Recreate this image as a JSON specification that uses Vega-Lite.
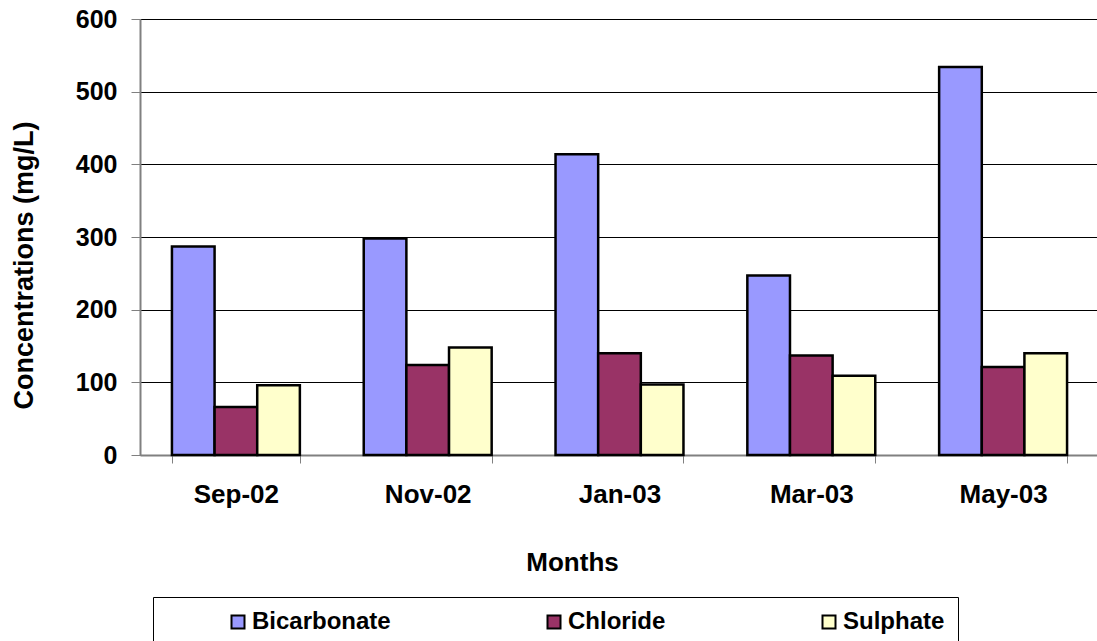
{
  "$schema": "https://vega.github.io/schema/vega-lite/v6.json",
  "width": 959,
  "height": 436,
  "autosize": {"type": "none"},
  "padding": {"left": 140, "top": 19, "right": 0, "bottom": 186},
  "background": "white",
  "config": {
    "font": "Liberation Sans",
    "view": {"stroke": null}
  },
  "data": {
    "values": [
      {"month": "Sep-02", "ion": "Bicarbonate", "value": 287},
      {"month": "Sep-02", "ion": "Chloride", "value": 66},
      {"month": "Sep-02", "ion": "Sulphate", "value": 96},
      {"month": "Nov-02", "ion": "Bicarbonate", "value": 298},
      {"month": "Nov-02", "ion": "Chloride", "value": 124},
      {"month": "Nov-02", "ion": "Sulphate", "value": 148},
      {"month": "Jan-03", "ion": "Bicarbonate", "value": 414},
      {"month": "Jan-03", "ion": "Chloride", "value": 140},
      {"month": "Jan-03", "ion": "Sulphate", "value": 97},
      {"month": "Mar-03", "ion": "Bicarbonate", "value": 247},
      {"month": "Mar-03", "ion": "Chloride", "value": 137},
      {"month": "Mar-03", "ion": "Sulphate", "value": 109},
      {"month": "May-03", "ion": "Bicarbonate", "value": 534},
      {"month": "May-03", "ion": "Chloride", "value": 121},
      {"month": "May-03", "ion": "Sulphate", "value": 140}
    ]
  },
  "mark": {"type": "bar", "stroke": "black", "strokeWidth": 2.5},
  "encoding": {
    "x": {
      "field": "month",
      "type": "nominal",
      "sort": ["Sep-02", "Nov-02", "Jan-03", "Mar-03", "May-03"],
      "scale": {"paddingInner": 0.333, "paddingOuter": 0.1665},
      "axis": {
        "title": "Months",
        "titleFontSize": 26,
        "titleFontWeight": "bold",
        "titleColor": "black",
        "titleX": 432,
        "titleY": 115,
        "titleAlign": "center",
        "titleBaseline": "alphabetic",
        "labelAngle": 0,
        "labelFontSize": 26,
        "labelFontWeight": "bold",
        "labelColor": "black",
        "labelPadding": 18,
        "tickBand": "extent",
        "tickSize": 8,
        "tickColor": "#808080",
        "domainColor": "#808080",
        "domainWidth": 2
      }
    },
    "xOffset": {
      "field": "ion",
      "type": "nominal",
      "sort": ["Bicarbonate", "Chloride", "Sulphate"],
      "scale": {"paddingInner": 0, "paddingOuter": 0}
    },
    "y": {
      "field": "value",
      "type": "quantitative",
      "scale": {"domain": [0, 600], "nice": false},
      "axis": {
        "values": [0, 100, 200, 300, 400, 500, 600],
        "title": "Concentrations (mg/L)",
        "titleFontSize": 27,
        "titleFontWeight": "bold",
        "titleColor": "black",
        "titleAngle": -90,
        "titleX": -116,
        "titleY": 246,
        "titleAlign": "center",
        "titleBaseline": "middle",
        "labelFontSize": 25,
        "labelFontWeight": "bold",
        "labelColor": "black",
        "labelPadding": 14,
        "tickSize": 9,
        "tickColor": "#808080",
        "domainColor": "#808080",
        "domainWidth": 2,
        "grid": true,
        "gridColor": "black"
      }
    },
    "color": {
      "field": "ion",
      "type": "nominal",
      "sort": ["Bicarbonate", "Chloride", "Sulphate"],
      "scale": {
        "domain": ["Bicarbonate", "Chloride", "Sulphate"],
        "range": ["#9999FF", "#993366", "#FFFFCC"]
      },
      "legend": {
        "title": null,
        "orient": "none",
        "legendX": 13,
        "legendY": 578,
        "direction": "horizontal",
        "columns": 3,
        "strokeColor": "black",
        "padding": 13,
        "symbolType": "square",
        "symbolSize": 169,
        "symbolStrokeColor": "black",
        "symbolStrokeWidth": 2,
        "symbolOffset": 60,
        "labelOffset": 2,
        "columnPadding": 91,
        "labelFontSize": 24,
        "labelFontWeight": "bold",
        "labelColor": "black",
        "labelLimit": 400
      }
    }
  }
}
